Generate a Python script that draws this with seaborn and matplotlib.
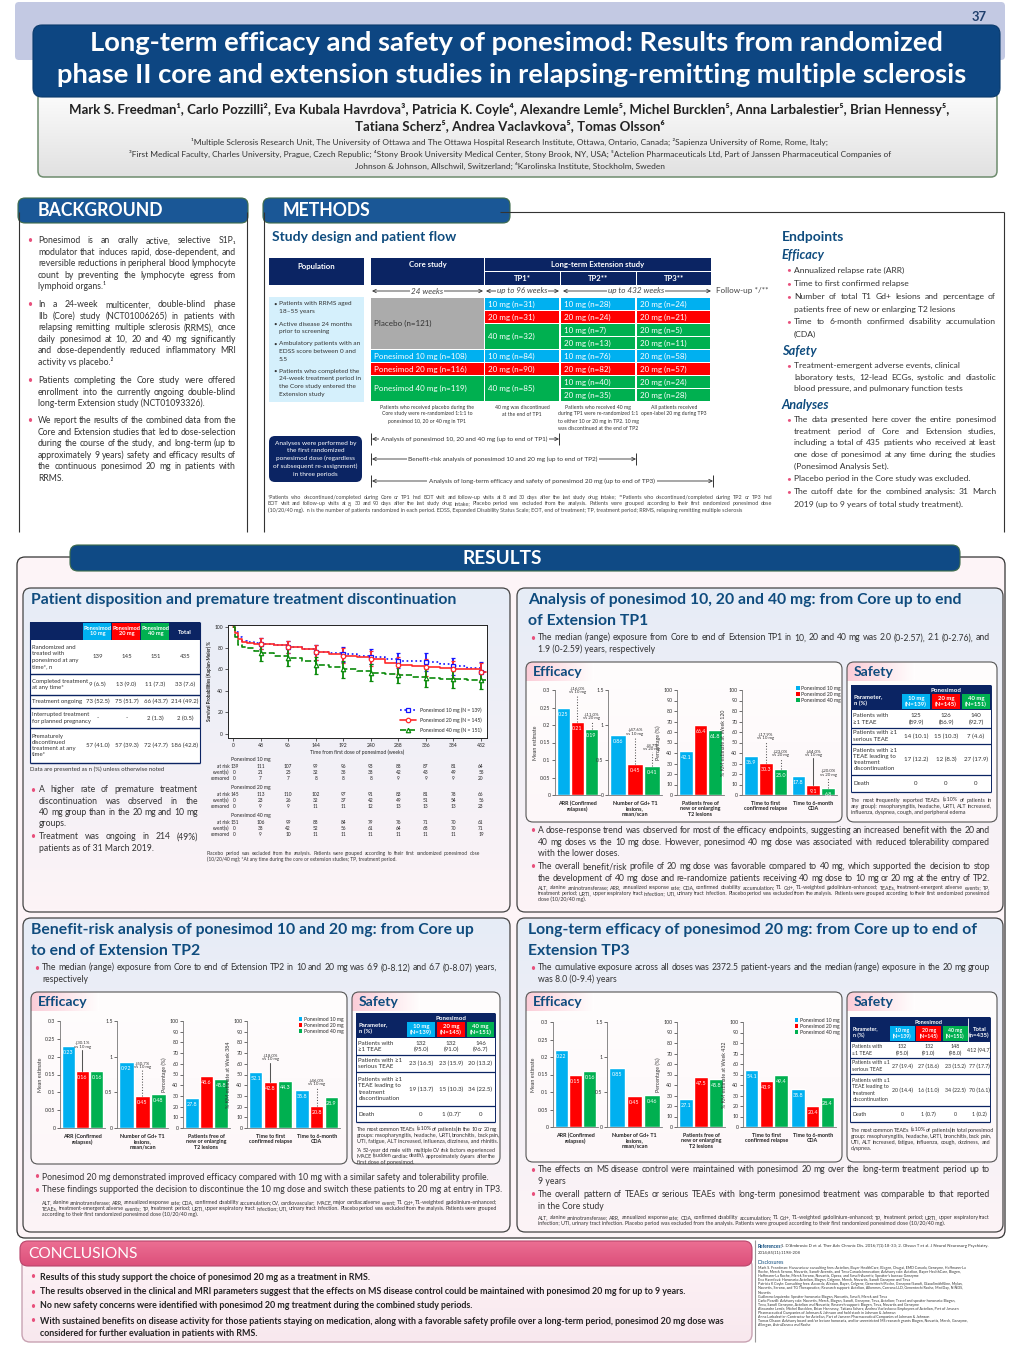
import textwrap
import numpy as np
import pandas as pd
import matplotlib
matplotlib.use('Agg')
import matplotlib.pyplot as plt
import seaborn as sns
from matplotlib.patches import FancyBboxPatch, Rectangle, Patch
from matplotlib.lines import Line2D
from matplotlib.colors import to_rgb

sns.set_theme(style='white')
plt.rcParams['font.family'] = ['Lato', 'DejaVu Sans']
plt.rcParams['axes.unicode_minus'] = False

# ============================ DATA ============================
dose_names = ['Ponesimod 10 mg', 'Ponesimod 20 mg', 'Ponesimod 40 mg']
dose_colors = ['#00b0f0', '#ff0000', '#00b050']

# --- disposition table
disp_cols = ['Ponesimod\n10 mg', 'Ponesimod\n20 mg', 'Ponesimod\n40 mg', 'Total']
disp_rows = ['Randomized and\ntreated with\nponesimod at any\ntime*, n',
             'Completed treatment\nat any time*', 'Treatment ongoing',
             'Interrupted treatment\nfor planned pregnancy',
             'Prematurely\ndiscontinued\ntreatment at any\ntime*']
disp_randomized = ['139', '145', '151', '435']
disp_completed = ['9 (6.5)', '13 (9.0)', '11 (7.3)', '33 (7.6)']
disp_ongoing = ['73 (52.5)', '75 (51.7)', '66 (43.7)', '214 (49.2)']
disp_interrupted = ['-', '-', '2 (1.3)', '2 (0.5)']
disp_discontinued = ['57 (41.0)', '57 (39.3)', '72 (47.7)', '186 (42.8)']

# --- Kaplan-Meier (treatment discontinuation)
km_weeks = [0, 4, 8, 16, 24, 36, 48, 72, 96, 120, 144, 168, 192, 216, 240, 264, 288, 312, 336, 360, 384, 408, 432, 440]
km_10 = [100, 95, 90, 87, 86, 85, 84, 83, 81, 79, 76, 75, 74, 73, 72, 70, 68, 68, 67, 65, 63, 61, 58, 58]
km_20 = [100, 94, 88, 86, 85, 84, 84, 83, 81, 79, 76, 74, 73, 72, 70, 66, 64, 63, 62, 61, 60, 60, 58, 58]
km_40 = [100, 90, 83, 81, 80, 77, 75, 73, 71, 68, 64, 62, 60, 59, 57, 56, 55, 53, 52, 51, 51, 50, 50, 50]
km_ticks = [0, 48, 96, 144, 192, 240, 288, 336, 384, 432]
km_err_10 = [5, 6, 7, 7, 7, 7, 8, 8, 9]
km_err_20 = [5, 6, 7, 7, 7, 8, 8, 8, 8]
km_err_40 = [7, 8, 8, 8, 8, 8, 8, 8, 8]
km_legend = ['Ponesimod 10 mg (N = 139)', 'Ponesimod 20 mg (N = 145)', 'Ponesimod 40 mg (N = 151)']
risk_10_atrisk = [139, 111, 107, 99, 96, 93, 88, 87, 81, 64]
risk_10_events = [0, 21, 25, 32, 35, 38, 42, 43, 49, 55]
risk_10_cens = [0, 7, 7, 8, 8, 8, 9, 9, 9, 20]
risk_20_atrisk = [145, 113, 110, 102, 97, 91, 83, 81, 78, 66]
risk_20_events = [0, 23, 26, 32, 37, 42, 49, 51, 54, 56]
risk_20_cens = [0, 9, 9, 11, 11, 12, 13, 13, 13, 23]
risk_40_atrisk = [151, 106, 99, 88, 84, 79, 76, 71, 70, 61]
risk_40_events = [0, 38, 42, 52, 56, 61, 64, 68, 70, 71]
risk_40_cens = [0, 9, 10, 11, 11, 11, 11, 11, 11, 19]

# --- efficacy bars (10 / 20 / 40 mg)
tp1_arr = [0.25, 0.21, 0.19]
tp1_gd = [0.86, 0.45, 0.41]
tp1_t2 = [42.1, 66.4, 61.8]
tp1_relapse = [36.9, 30.3, 25.0]
tp1_cda = [17.8, 9.1, 6.8]
tp2_arr = [0.23, 0.16, 0.16]
tp2_gd = [0.92, 0.45, 0.48]
tp2_t2 = [27.8, 48.6, 45.8]
tp2_relapse = [52.1, 42.8, 44.3]
tp2_cda = [35.8, 20.8, 28.9]
tp3_arr = [0.22, 0.15, 0.16]
tp3_gd = [0.85, 0.45, 0.46]
tp3_t2 = [27.1, 47.5, 45.8]
tp3_relapse = [54.1, 43.9, 49.4]
tp3_cda = [35.8, 20.4, 28.4]
tp1_notes_arr = ['↓16.0%\nvs 10 mg', '↓11.0%\nvs 20 mg']
tp1_notes_gd = ['↓47.6%\nvs 10 mg', '↓8.7%\nvs 20 mg']
tp1_notes_relapse = ['↓17.9%\nvs 10 mg', '↓23.0%\nvs 20 mg']
tp1_notes_cda = ['↓44.0%\nvs 10 mg', '↓20.0%\nvs 20 mg']
tp2_notes = ['↓30.1%\nvs 10 mg', '↓50.7%\nvs 10 mg', '↓18.0%\nvs 10 mg', '↓46.0%\nvs 10 mg']

# --- safety tables
safety_params = ['Patients with\n≥1 TEAE', 'Patients with ≥1\nserious TEAE',
                 'Patients with ≥1\nTEAE leading to\ntreatment\ndiscontinuation', 'Death']
safety_cols = ['10 mg\n(N=139)', '20 mg\n(N=145)', '40 mg\n(N=151)', 'Total\n(n=435)']
tp1_teae = ['125\n(89.9)', '126\n(86.9)', '140\n(92.7)']
tp1_serious = ['14 (10.1)', '15 (10.3)', '7 (4.6)']
tp1_disc = ['17 (12.2)', '12 (8.3)', '27 (17.9)']
tp1_death = ['0', '0', '0']
tp2_teae = ['132\n(95.0)', '132\n(91.0)', '146\n(96.7)']
tp2_serious = ['23 (16.5)', '23 (15.9)', '20 (13.2)']
tp2_disc = ['19 (13.7)', '15 (10.3)', '34 (22.5)']
tp2_death = ['0', '1 (0.7)ᵃ', '0']
tp3_teae = ['132\n(95.0)', '132\n(91.0)', '148\n(98.0)', '412 (94.7)']
tp3_serious = ['27 (19.4)', '27 (18.6)', '23 (15.2)', '77 (17.7)']
tp3_disc = ['20 (14.4)', '16 (11.0)', '34 (22.5)', '70 (16.1)']
tp3_death = ['0', '1 (0.7)', '0', '1 (0.2)']

# --- study flow
flow_core = ['Placebo (n=121)', 'Ponesimod 10 mg (n=108)', 'Ponesimod 20 mg (n=116)', 'Ponesimod 40 mg (n=119)']
flow_tp1 = ['10 mg (n=31)', '20 mg (n=31)', '40 mg (n=32)', '10 mg (n=84)', '20 mg (n=90)', '40 mg (n=85)']
flow_tp2 = ['10 mg (n=28)', '20 mg (n=24)', '10 mg (n=7)', '20 mg (n=13)', '10 mg (n=76)', '20 mg (n=82)', '10 mg (n=40)', '20 mg (n=35)']
flow_tp3 = ['20 mg (n=24)', '20 mg (n=21)', '20 mg (n=5)', '20 mg (n=11)', '20 mg (n=58)', '20 mg (n=57)', '20 mg (n=24)', '20 mg (n=28)']
flow_row_dose = [0, 1, 2, 2, 0, 1, 2, 2]

# ============================ LAYOUT HELPERS ============================
W, H = 1020, 1360
fig = plt.figure(figsize=(W / 100, H / 100), dpi=100)
fig.patch.set_facecolor('white')
C = fig.add_axes([0, 0, 1, 1])
C.set_xlim(0, W)
C.set_ylim(H, 0)
C.axis('off')
C.set_autoscale_on(False)
RENDERER = fig.canvas.get_renderer()

NAVY = '#0b2463'
HEAD = '#0f4c7e'
PINK = '#e8507c'
DARK = '#262626'


def fs(px):
    return px * 0.72


def T(x, y, s, px=8, color=DARK, weight='normal', ha='left', va='center', style='normal', z=10, **kw):
    return C.text(x, y, s, fontsize=fs(px), color=color, fontweight=weight, ha=ha, va=va,
                  style=style, zorder=z, **kw)


_wc = {}


def tw(s, px, weight='normal'):
    key = (s, px, weight)
    if key not in _wc:
        t = C.text(0, 0, s, fontsize=fs(px), fontweight=weight)
        _wc[key] = t.get_window_extent(RENDERER).width
        t.remove()
    return _wc[key]


def JLINE(x, y, s, width, px, justify=True, weight='normal', **kw):
    yb = y + 0.28 * px
    words = s.split(' ')
    if not justify or len(words) < 2:
        T(x, yb, s, px=px, weight=weight, va='baseline', **kw)
        return
    ws = [tw(w, px, weight) for w in words]
    sp = tw('a a', px, weight) - 2 * tw('a', px, weight)
    gap = (width - sum(ws)) / (len(words) - 1)
    gap = max(gap, 0.35 * sp)
    if gap > 4 * sp:
        T(x, yb, s, px=px, weight=weight, va='baseline', **kw)
        return
    xx = x
    for w, wd in zip(words, ws):
        T(xx, yb, w, px=px, weight=weight, va='baseline', **kw)
        xx += wd + gap


def JUST(x, y0, dy, lines, width, px, last=False, **kw):
    for i, s in enumerate(lines):
        JLINE(x, y0 + i * dy, s, width, px, justify=(last or i < len(lines) - 1), **kw)


def RB(x, y, w, h, fc, ec='none', lw=0.8, r=6, z=1):
    p = FancyBboxPatch((x, y), w, h, boxstyle=f'round,pad=0,rounding_size={r}', fc=fc, ec=ec, lw=lw, zorder=z)
    C.add_patch(p)
    return p


def R(x, y, w, h, fc, ec='none', lw=0.6, z=3):
    p = Rectangle((x, y), w, h, fc=fc, ec=ec, lw=lw, zorder=z)
    C.add_patch(p)
    return p


def G(x, y, w, h, c1, c2, vertical=True, clip=None, z=1.5):
    t = np.linspace(0, 1, 64)[:, None]
    cols = np.array(to_rgb(c1))[None, :] * (1 - t) + np.array(to_rgb(c2))[None, :] * t
    img = cols[:, None, :] if vertical else cols[None, :, :]
    im = C.imshow(img, extent=(x, x + w, y + h, y), aspect='auto', zorder=z, interpolation='bilinear')
    if clip is not None:
        im.set_clip_path(clip)
    return im


def LN(x1, y1, x2, y2, color='#333', lw=0.8, z=4, **kw):
    C.plot([x1, x2], [y1, y2], color=color, lw=lw, zorder=z, solid_capstyle='butt', **kw)


def LINES(x, y0, dy, lines, **kw):
    for i, s in enumerate(lines):
        T(x, y0 + i * dy, s, **kw)


def BUL(x, y0, dy, lines, px=8, gap=8, bcol=PINK, width=None, **kw):
    T(x, y0, '•', px=px, color=bcol)
    if width is None:
        LINES(x + gap, y0, dy, lines, px=px, **kw)
    else:
        JUST(x + gap, y0, dy, lines, width, px, **kw)


def rect_px(x, y, w, h):
    return [x / W, 1 - (y + h) / H, w / W, h / H]


def gbox(x, y, w, h, c1, c2, ec='#444', lw=0.9, r=8):
    p = RB(x, y, w, h, 'none', ec=ec, lw=lw, r=r, z=2)
    G(x, y, w, h, c1, c2, clip=p)
    return p


# ============================ HEADER ============================
RB(15, 2, 990, 58, '#c3c9e3', r=4, z=1)
T(979, 17, '37', px=13, color='#1f3f6d', weight='bold', ha='center')
ab = gbox(38, 92, 959, 85, '#fcfcfc', '#e1e1e1', ec='#6e8c6e', lw=1.1, r=6)
RB(33, 25, 967, 72, '#0d4682', ec='#0a3a6c', r=9, z=3)
T(516, 43, 'Long-term efficacy and safety of ponesimod: Results from randomized', px=27.4,
  color='white', weight='bold', ha='center')
T(512, 75, 'phase II core and extension studies in relapsing-remitting multiple sclerosis', px=27.4,
  color='white', weight='bold', ha='center')
T(509, 110, 'Mark S. Freedman¹, Carlo Pozzilli², Eva Kubala Havrdova³, Patricia K. Coyle⁴, Alexandre Lemle⁵, '
  'Michel Burcklen⁵, Anna Larbalestier⁵, Brian Hennessy⁵,', px=13.2, weight='bold', ha='center', color='#222')
T(510, 126, 'Tatiana Scherz⁵, Andrea Vaclavkova⁵, Tomas Olsson⁶', px=13.2, weight='bold', ha='center', color='#222')
T(510, 142, '¹Multiple Sclerosis Research Unit, The University of Ottawa and The Ottawa Hospital Research Institute, '
  'Ottawa, Ontario, Canada; ²Sapienza University of Rome, Rome, Italy;', px=8.4, ha='center', color='#333')
T(510, 154, '³First Medical Faculty, Charles University, Prague, Czech Republic; ⁴Stony Brook University Medical Center, '
  'Stony Brook, NY, USA; ⁵Actelion Pharmaceuticals Ltd, Part of Janssen Pharmaceutical Companies of', px=8.4,
  ha='center', color='#333')
T(510, 166, 'Johnson & Johnson, Allschwil, Switzerland; ⁶Karolinska Institute, Stockholm, Sweden', px=8.4,
  ha='center', color='#333')

# ============================ BACKGROUND ============================
LN(19.5, 212, 19.5, 532, lw=0.8)
LN(247.5, 212, 247.5, 532, lw=0.8)
RB(18, 198, 230, 25, '#1a5796', ec='#3d6b4a', lw=0.8, r=7, z=3)
T(38, 211, 'BACKGROUND', px=17.6, color='white', weight='bold')
bg1 = ['Ponesimod is an orally active, selective S1P₁', 'modulator that induces rapid, dose-dependent, and',
       'reversible reductions in peripheral blood lymphocyte', 'count by preventing the lymphocyte egress from',
       'lymphoid organs.¹']
bg2 = ['In a 24-week multicenter, double-blind phase', 'IIb (Core) study (NCT01006265) in patients with',
       'relapsing remitting multiple sclerosis (RRMS), once', 'daily ponesimod at 10, 20 and 40 mg significantly',
       'and dose-dependently reduced inflammatory MRI', 'activity vs placebo.²']
bg3 = ['Patients completing the Core study were offered', 'enrollment into the currently ongoing double-blind',
       'long-term Extension study (NCT01093326).']
bg4 = ['We report the results of the combined data from the', 'Core and Extension studies that led to dose-selection',
       'during the course of the study, and long-term (up to', 'approximately 9 years) safety and efficacy results of',
       'the continuous ponesimod 20 mg in patients with', 'RRMS.']
for y0, blk in zip([241, 305, 381, 421], [bg1, bg2, bg3, bg4]):
    BUL(27, y0, 11.5, blk, px=8.7, gap=11, color='#333', width=198)

# ============================ METHODS ============================
LN(264, 212, 264, 532, lw=0.8)
LN(1004, 212, 1004, 532, lw=0.8)
LN(500, 212, 1004, 212, lw=0.8)
RB(263, 198, 247, 25, '#1a5796', ec='#3d6b4a', lw=0.8, r=7, z=3)
T(283, 211, 'METHODS', px=17.6, color='white', weight='bold')
T(272, 237, 'Study design and patient flow', px=13.9, color=HEAD, weight='bold')

R(269, 258, 95, 27, NAVY)
T(316.5, 266, 'Population', px=7.8, color='white', weight='bold', ha='center')
R(371, 258, 113, 27, NAVY)
T(427.5, 265, 'Core study', px=7.8, color='white', weight='bold', ha='center')
R(485, 258, 226, 13, NAVY)
T(598, 264.5, 'Long-term Extension study', px=7.8, color='white', weight='bold', ha='center')
col_x = [371, 485, 561, 637]
col_w = [113, 75, 75, 74]
for i, lab in enumerate(['TP1*', 'TP2**', 'TP3**']):
    R(col_x[i + 1], 272, col_w[i + 1], 13, NAVY)
    T(col_x[i + 1] + col_w[i + 1] / 2, 278.5, lab, px=7.8, color='white', weight='bold', ha='center')

arrowkw = dict(arrowstyle='<->', lw=0.6, color='#333', mutation_scale=6, shrinkA=0, shrinkB=0)
C.annotate('', xy=(483, 291), xytext=(372, 291), arrowprops=arrowkw, zorder=5)
T(427, 291, '24 weeks', px=8.2, style='italic', ha='center', color='#444',
  bbox=dict(fc='white', ec='none', pad=0.8), z=6)
C.annotate('', xy=(559, 291), xytext=(486, 291), arrowprops=arrowkw, zorder=5)
T(522, 291, 'up to 96 weeks', px=8.0, style='italic', ha='center', color='#444',
  bbox=dict(fc='white', ec='none', pad=0.3), z=6)
C.annotate('', xy=(711, 291), xytext=(563, 291), arrowprops=arrowkw, zorder=5)
T(636, 291, 'up to 432 weeks', px=8.2, style='italic', ha='center', color='#444',
  bbox=dict(fc='white', ec='none', pad=0.8), z=6)
T(716, 290, 'Follow-up */**', px=8.2, color='#444')

R(269, 297, 95, 105, '#d5f0fc')
pop = [(304, ['Patients with RRMS aged', '18–55 years']),
       (324, ['Active disease 24 months', 'prior to screening']),
       (344, ['Ambulatory patients with an', 'EDSS score between 0 and', '5.5']),
       (371, ['Patients who completed the', '24-week treatment period in', 'the Core study entered the',
              'Extension study'])]
for y0, blk in pop:
    T(273, y0, '•', px=6, color='#333')
    LINES(279, y0, 7.9, blk, px=6.5, color='#333')

RY0, RH = 298, 13
R(col_x[0], RY0, col_w[0], 4 * RH - 1, '#ababab')
T(col_x[0] + 3, RY0 + 2 * RH - 0.5, flow_core[0], px=8, color='#333')
for lab, r0, nr, d in [(flow_core[1], 4, 1, 0), (flow_core[2], 5, 1, 1), (flow_core[3], 6, 2, 2)]:
    R(col_x[0], RY0 + r0 * RH, col_w[0], nr * RH - 1, dose_colors[d])
    T(col_x[0] + 3, RY0 + r0 * RH + nr * RH / 2 - 0.5, lab, px=8, color='white')
tp1_rows = [(0, 1), (1, 1), (2, 2), (4, 1), (5, 1), (6, 2)]
for lab, (r0, nr) in zip(flow_tp1, tp1_rows):
    R(col_x[1], RY0 + r0 * RH, col_w[1] - 1, nr * RH - 1, dose_colors[flow_row_dose[r0]])
    T(col_x[1] + 3, RY0 + r0 * RH + nr * RH / 2 - 0.5, lab, px=8, color='white')
for ci, labs in [(2, flow_tp2), (3, flow_tp3)]:
    for r0, lab in enumerate(labs):
        R(col_x[ci], RY0 + r0 * RH, col_w[ci] - 1, RH - 1, dose_colors[flow_row_dose[r0]])
        T(col_x[ci] + 3, RY0 + r0 * RH + RH / 2 - 0.5, lab, px=8, color='white')

notes = [(427, ['Patients who received placebo during the', 'Core study were re-randomized 1:1:1 to',
                'ponesimod 10, 20 or 40 mg in TP1']),
         (522, ['40 mg was discontinued', 'at the end of TP1']),
         (598, ['Patients who received 40 mg', 'during TP1 were re-randomized 1:1', 'to either 10 or 20 mg in TP2. 10 mg',
                'was discontinued at the end of TP2']),
         (674, ['All patients received', 'open-label 20 mg during TP3'])]
for xc, blk in notes:
    LINES(xc, 407, 7, blk, px=5.1, ha='center', color='#333')

RB(269, 436, 93, 46, NAVY, r=6, z=3)
LINES(315.5, 443, 7.8, ['Analyses were performed by', 'the first randomized', 'ponesimod dose (regardless',
                        'of subsequent re-assignment)', 'in three periods'], px=6.5, color='white', ha='center')
for y, x2, lab, lx, ha in [(439, 559, 'Analysis of ponesimod 10, 20 and 40 mg (up to end of TP1)', 381, 'left'),
                           (459, 636, 'Benefit-risk analysis of ponesimod 10 and 20 mg (up to end of TP2)', 503, 'center'),
                           (481, 713, 'Analysis of long-term efficacy and safety of ponesimod 20 mg (up to end of TP3)', 542, 'center')]:
    C.annotate('', xy=(x2, y), xytext=(372, y), arrowprops=arrowkw, zorder=5)
    LN(371.5, y - 6, 371.5, y + 6, lw=0.7)
    LN(x2 + 0.5, y - 6, x2 + 0.5, y + 6, lw=0.7)
    T(lx, y, lab, px=6.4, ha=ha, color='#333', bbox=dict(fc='white', ec='none', pad=1.2), z=6)

foot_m = ['*Patients who discontinued/completed during Core or TP1 had EOT visit and follow-up visits at 8 and 30 days after the last study drug intake; **Patients who discontinued/completed during TP2 or TP3 had',
          'EOT visit and follow-up visits at 8, 30 and 90 days after the last study drug intake; Placebo period was excluded from the analysis. Patients were grouped according to their first randomized ponesimod dose',
          '(10/20/40 mg).  n is the number of patients randomized in each period. EDSS, Expanded Disability Status Scale; EOT, end of treatment; TP, treatment period; RRMS, relapsing remitting multiple sclerosis']
JUST(268, 497, 6.9, foot_m, 504, 5.4, color='#444')

T(782, 237, 'Endpoints', px=13.9, color=HEAD, weight='bold')
T(782, 255, 'Efficacy', px=12.8, color=HEAD, weight='bold', style='italic')
ep = dict(px=8.5, gap=8, color='#333', width=202)
BUL(786, 270, 12, ['Annualized relapse rate (ARR)'], **ep)
BUL(786, 284, 12, ['Time to first confirmed relapse'], **ep)
BUL(786, 297, 12.3, ['Number of total T1 Gd+ lesions and percentage of', 'patients free of new or enlarging T2 lesions'], **ep)
BUL(786, 322, 12.3, ['Time to 6-month confirmed disability accumulation', '(CDA)'], **ep)
T(782, 351, 'Safety', px=12.8, color=HEAD, weight='bold', style='italic')
BUL(786, 366, 11.3, ['Treatment-emergent adverse events, clinical', 'laboratory tests, 12-lead ECGs, systolic and diastolic',
                     'blood pressure, and pulmonary function tests'], **ep)
T(782, 405, 'Analyses', px=12.8, color=HEAD, weight='bold', style='italic')
BUL(786, 420, 11.5, ['The data presented here cover the entire ponesimod', 'treatment period of Core and Extension studies,',
                     'including a total of 435 patients who received at least',
                     'one dose of ponesimod at any time during the studies', '(Ponesimod Analysis Set).'], **ep)
BUL(786, 479, 12, ['Placebo period in the Core study was excluded.'], **ep)
BUL(786, 492, 12, ['The cutoff date for the combined analysis: 31 March',
                   '2019 (up to 9 years of total study treatment).'], **ep)

# ============================ RESULTS ============================
RB(17, 557, 988, 681, '#fdf4f7', ec='#333', lw=0.9, r=8, z=1)
RB(70, 545, 890, 26, '#0f4a85', ec='#3d6b4a', lw=0.8, r=8, z=3)
T(502, 558, 'RESULTS', px=19, color='white', weight='bold', ha='center')

PANEL_TOP, PANEL_BOT = '#e6ecf6', '#fdf4f7'
gbox(23, 588, 487, 324, PANEL_TOP, PANEL_BOT)
gbox(517, 588, 486, 324, PANEL_TOP, PANEL_BOT)
gbox(23, 918, 487, 314, PANEL_TOP, PANEL_BOT)
gbox(517, 918, 486, 314, PANEL_TOP, PANEL_BOT)

TPX = 15.8
T(31, 600, 'Patient disposition and premature treatment discontinuation', px=TPX, color=HEAD, weight='bold')
T(528, 600, 'Analysis of ponesimod 10, 20 and 40 mg: from Core up to end', px=TPX, color=HEAD, weight='bold')
T(528, 621, 'of Extension TP1', px=TPX, color=HEAD, weight='bold')
T(31, 930, 'Benefit-risk analysis of ponesimod 10 and 20 mg: from Core up', px=TPX, color=HEAD, weight='bold')
T(31, 951, 'to end of Extension TP2', px=TPX, color=HEAD, weight='bold')
T(528, 930, 'Long-term efficacy of ponesimod 20 mg: from Core up to end of', px=TPX, color=HEAD, weight='bold')
T(528, 951, 'Extension TP3', px=TPX, color=HEAD, weight='bold')

# ---------------- panel 1 : disposition table
colx = [30, 83, 112, 141, 170, 200]
R(30, 640, 170, 123, 'white', z=2.5)
R(30, 622, 170, 18, NAVY)
for i in range(3):
    R(colx[i + 1] + 0.5, 622.5, 28, 17, dose_colors[i], z=4)
    T((colx[i + 1] + colx[i + 2]) / 2, 631, disp_cols[i], px=5.6, color='white', weight='bold', ha='center',
      linespacing=1.2)
T(185, 633, disp_cols[3], px=6, color='white', weight='bold', ha='center')
row_edges = [640, 674, 695, 708, 728, 763]
row_vals = [disp_randomized, disp_completed, disp_ongoing, disp_interrupted, disp_discontinued]
for k in range(5):
    yc = (row_edges[k] + row_edges[k + 1]) / 2
    T(32, yc, disp_rows[k], px=6.0, color='#333', linespacing=1.3)
    for j in range(4):
        T((colx[j + 1] + colx[j + 2]) / 2, yc, row_vals[k][j], px=6.0, ha='center', color='#333')
    LN(30, row_edges[k + 1], 200, row_edges[k + 1], color=NAVY, lw=1.0)
LN(30, 622, 30, 763, color=NAVY, lw=0.8)
LN(200, 622, 200, 763, color=NAVY, lw=0.8)
T(30, 769, 'Data are presented as n (%) unless otherwise noted', px=6.0, color='#333')
BUL(30, 790, 11.3, ['A higher rate of premature treatment', 'discontinuation was observed in the',
                    '40 mg group than in the 20 mg and 10 mg', 'groups.'], px=8.7, gap=9, color='#333', width=159)
BUL(30, 837, 11.3, ['Treatment was ongoing in 214 (49%)', 'patients as of 31 March 2019.'], px=8.7, gap=9,
    color='#333', width=159)

# ---------------- panel 1 : KM curve
axk = fig.add_axes(rect_px(228, 625, 259, 113))
axk.set_facecolor('white')
km_colors = ['#1414ff', '#ff2a2a', '#0a8a0a']
km_ls = [':', '-', '--']
km_mk = ['s', 'o', '^']
for vals, col, ls, mk, errs in zip([km_10, km_20, km_40], km_colors, km_ls, km_mk, [km_err_10, km_err_20, km_err_40]):
    sns.lineplot(x=km_weeks, y=vals, color=col, linestyle=ls, lw=1.2, drawstyle='steps-post', ax=axk,
                 errorbar=None, legend=False)
    mv = [vals[km_weeks.index(wk)] for wk in km_ticks[1:]]
    axk.errorbar(km_ticks[1:], mv, yerr=errs, fmt=mk, color=col, mfc='white', ms=3.2, mew=0.9,
                 elinewidth=1.3, capsize=1.6, capthick=0.9)
axk.set_xlim(-8.7, 442.5)
axk.set_ylim(-4, 101.5)
axk.set_xticks(km_ticks)
axk.set_yticks([0, 20, 40, 60, 80, 100])
axk.tick_params(labelsize=fs(5), length=2, width=0.5, pad=1.5, bottom=True, left=True, colors='#222')
for s in axk.spines.values():
    s.set_color('#222')
    s.set_linewidth(0.7)
axk.set_xlabel('Time from first dose of ponesimod (weeks)', fontsize=fs(5), labelpad=1.5, color='#222')
axk.set_ylabel('Survival Probabilities (Kaplan-Meier) %', fontsize=fs(4.6), labelpad=2, color='#222',
               fontweight='bold')
hs = [Line2D([], [], color=c, ls=l, marker=m, mfc='white', ms=3.2, mew=0.9, lw=1.2)
      for c, l, m in zip(km_colors, km_ls, km_mk)]
axk.legend(hs, km_legend, loc='lower right', fontsize=fs(5), frameon=False, handlelength=3.2,
           labelspacing=0.9, borderaxespad=0.6)

ar = fig.add_axes(rect_px(228, 755, 259, 85))
ar.set_xlim(-8.7, 442.5)
ar.set_ylim(85, 0)
ar.axis('off')
groups = [('Ponesimod 10 mg', risk_10_atrisk, risk_10_events, risk_10_cens),
          ('Ponesimod 20 mg', risk_20_atrisk, risk_20_events, risk_20_cens),
          ('Ponesimod 40 mg', risk_40_atrisk, risk_40_events, risk_40_cens)]
for g, (name, a, e, c) in enumerate(groups):
    y0 = 5 + g * 28
    ar.text(-3, y0, name, fontsize=fs(5), ha='left', va='center', color='#222')
    for r, (lab, vals) in enumerate([('at risk', a), ('event(s)', e), ('censored', c)]):
        yy = y0 + 6.2 * (r + 1)
        ar.text(-6, yy, lab, fontsize=fs(4.8), ha='right', va='center', color='#222')
        for wk, v in zip(km_ticks, vals):
            ar.text(wk + (3 if wk == 0 else 0), yy, str(v), fontsize=fs(4.8), ha='center', va='center', color='#222')
JUST(207, 854, 6, ['Placebo period was excluded from the analysis. Patients were grouped according to their first randomized ponesimod dose',
                   '(10/20/40 mg); *At any time during the core or extension studies; TP, treatment period.'],
     273, 4.9, color='#333')


# ---------------- efficacy / safety helpers
def eff_chart(x, y, w, h, cats, series, ylim, ticks, ticklabels, ylabel, fmt, xlabels, ann=(), legend=False):
    ax = fig.add_axes(rect_px(x, y, w, h))
    ax.patch.set_alpha(0)
    df = pd.DataFrame({'cat': np.repeat(cats, 3), 'dose': dose_names * len(cats), 'val': np.concatenate(series)})
    sns.barplot(data=df, x='cat', y='val', hue='dose', order=cats, hue_order=dose_names, palette=dose_colors,
                saturation=1, width=0.94, gap=0.08, errorbar=None, legend=False, ax=ax)
    for cont in ax.containers:
        ax.bar_label(cont, labels=[fmt.format(b.get_height()) for b in cont], padding=-6.5, color='white',
                     fontsize=fs(5.4))
    ax.set_ylim(*ylim)
    ax.set_xlim(-0.5, len(cats) - 0.5)
    ax.set_yticks(ticks)
    ax.set_yticklabels(ticklabels)
    ax.tick_params(axis='y', labelsize=fs(5.2), length=2, width=0.5, pad=1.2, colors='#333', left=True)
    ax.tick_params(axis='x', length=0, pad=4, labelsize=fs(5.4), colors='#222')
    ax.set_xticks(range(len(cats)))
    ax.set_xticklabels(xlabels, fontweight='bold', linespacing=1.15)
    ax.set_xlabel('')
    ax.set_ylabel(ylabel, fontsize=fs(5.2), labelpad=1.5, color='#333')
    for s in ['top', 'right']:
        ax.spines[s].set_visible(False)
    for s in ['left', 'bottom']:
        ax.spines[s].set_color('#777')
        ax.spines[s].set_linewidth(0.6)
    for ci, hi, label, ytop, ls in ann:
        b = ax.containers[hi][ci]
        bx = b.get_x() + b.get_width() / 2
        ax.plot([bx, bx], [b.get_height(), ytop], ls=ls, color='#555', lw=0.75, clip_on=False)
        ax.annotate(label, xy=(bx, ytop), xytext=(0, 1), textcoords='offset points', ha='center', va='bottom',
                    fontsize=fs(4.4), color='#333', linespacing=1.0, annotation_clip=False)
    if legend:
        hs = [Patch(fc=c, ec='none') for c in dose_colors]
        ax.legend(hs, dose_names, loc='upper right', bbox_to_anchor=(1.04, 1.04), frameon=False, fontsize=fs(5),
                  handlelength=0.7, handleheight=0.7, handletextpad=0.3, labelspacing=0.2, borderaxespad=0,
                  borderpad=0)
    return ax


def tp_charts(xs, y, h, arr, gd, t2, rel, cda, week, ann_arr=(), ann_gd=(), ann_km=()):
    eff_chart(xs[0][0], y, xs[0][1], h, ['arr'], [arr], (0, 0.3), [0, 0.05, 0.1, 0.15, 0.2, 0.25, 0.3],
              ['0', '0.05', '0.1', '0.15', '0.2', '0.25', '0.3'], 'Mean estimate', '{:.2f}',
              ['ARR (Confirmed\nrelapses)'], ann_arr)
    eff_chart(xs[1][0], y, xs[1][1], h, ['gd'], [gd], (0, 1.5), [0, 0.5, 1, 1.5], ['0', '0.5', '1', '1.5'], '',
              '{:.2f}', ['Number of Gd+ T1\nlesions,\nmean/scan'], ann_gd)
    eff_chart(xs[2][0], y, xs[2][1], h, ['t2'], [t2], (0, 100), list(range(0, 101, 10)),
              [str(v) for v in range(0, 101, 10)], 'Percentage (%)', '{:.1f}',
              ['Patients free of\nnew or enlarging\nT2 lesions'])
    eff_chart(xs[3][0], y, xs[3][1], h, ['rel', 'cda'], [rel, cda], (0, 100), list(range(0, 101, 10)),
              [str(v) for v in range(0, 101, 10)], f'% KM estimate at Week {week}', '{:.1f}',
              ['Time to first\nconfirmed relapse', 'Time to 6-month\nCDA'], ann_km, legend=True)


def sub_boxes(ex, y, ew, sx, sw, h):
    for bx, bw, lab in [(ex, ew, 'Efficacy'), (sx, sw, 'Safety')]:
        p = RB(bx, y, bw, h, 'none', ec='#555', lw=0.8, r=7, z=3)
        G(bx, y, bw, h, '#fffdfd', '#fdf7f9', clip=p, z=2.6)
        G(bx, y, 68, 19, '#fbcdd8', '#fffdfd', vertical=False, clip=p, z=2.7)
        T(bx + 7, y + 9.5, lab, px=14, color=HEAD, weight='bold')


def safety_table(x, y, widths, hh, rh, rows, ncol):
    xs = np.cumsum([x] + widths)
    Wt = xs[-1] - x
    sz = 6.1 if ncol == 3 else 5.3
    R(x, y + hh, Wt, sum(rh), 'white', z=3.5)
    R(x, y, Wt, hh, NAVY, z=4)
    ptop = 9
    T((xs[1] + xs[4]) / 2, y + ptop / 2 + 0.5, 'Ponesimod', px=6.2 if ncol == 3 else 5.6, color='white',
      weight='bold', ha='center')
    for i in range(3):
        R(xs[1 + i] + 0.6, y + ptop, widths[1 + i] - 1.2, hh - ptop - 1, dose_colors[i], z=4.5)
        T((xs[1 + i] + xs[2 + i]) / 2, y + ptop + (hh - ptop) / 2, safety_cols[i], px=6.0 if ncol == 3 else 5.1,
          color='white', weight='bold', ha='center', linespacing=1.15)
    if ncol == 4:
        LN(xs[4], y + 1, xs[4], y + hh, color='white', lw=0.6, z=5)
        T((xs[4] + xs[5]) / 2, y + hh * 0.62, safety_cols[3], px=6.0, color='white', weight='bold', ha='center',
          linespacing=1.15)
    T(x + 3, y + hh * 0.6, 'Parameter,\nn (%)', px=6.0 if ncol == 3 else 5.2, color='white', weight='bold',
      linespacing=1.2)
    yy = y + hh
    for p, vals, h in zip(safety_params, rows, rh):
        T(x + 2.5, yy + h / 2, p, px=sz, color='#333', linespacing=1.3)
        for j, v in enumerate(vals):
            T((xs[1 + j] + xs[2 + j]) / 2, yy + h / 2, v, px=sz, color='#333', ha='center', linespacing=1.3)
        yy += h
        LN(x, yy, xs[-1], yy, color=NAVY, lw=0.9, z=5)
    LN(x, y, x, yy, color=NAVY, lw=0.7, z=5)
    LN(xs[-1], y, xs[-1], yy, color=NAVY, lw=0.7, z=5)


BP = dict(px=8.6, gap=8, color='#333')

# ---------------- panel 2 : TP1
BUL(530, 638, 11.5, ['The median (range) exposure from Core to end of Extension TP1 in 10, 20 and 40 mg was 2.0 (0-2.57), 2.1 (0-2.76), and',
                     '1.9 (0-2.59) years, respectively'], width=452, **BP)
sub_boxes(526, 662, 316, 847, 150, 160)
tp_charts([(555, 45), (608, 54), (677, 47), (742, 95)], 690, 105, tp1_arr, tp1_gd, tp1_t2, tp1_relapse, tp1_cda, 120,
          ann_arr=[(0, 1, tp1_notes_arr[0], 0.284, ':'), (0, 2, tp1_notes_arr[1], 0.209, ':')],
          ann_gd=[(0, 1, tp1_notes_gd[0], 0.83, ':'), (0, 2, tp1_notes_gd[1], 0.61, ':')],
          ann_km=[(0, 1, tp1_notes_relapse[0], 51, ':'), (0, 2, tp1_notes_relapse[1], 35, ':'),
                  (1, 1, tp1_notes_cda[0], 35, '-'), (1, 2, tp1_notes_cda[1], 16, ':')])
safety_table(851, 685, [50, 30, 30, 30], 25, [18, 16, 31, 17], [tp1_teae, tp1_serious, tp1_disc, tp1_death], 3)
JUST(851, 800, 6.2, ['The most frequently reported TEAEs (≥10% of patients in', 'any group): nasopharyngitis, headache, URTI, ALT increased,',
                     'influenza, dyspnea, cough, and peripheral edema'], 141, 5.4, color='#333')
BUL(530, 831, 11.3, ['A dose-response trend was observed for most of the efficacy endpoints, suggesting an increased benefit with the 20 and',
                     '40 mg doses vs the 10 mg dose. However, ponesimod 40 mg dose was associated with reduced tolerability compared',
                     'with the lower doses.'], width=452, **BP)
BUL(530, 867, 11.3, ['The overall benefit/risk profile of 20 mg dose was favorable compared to 40 mg, which supported the decision to stop',
                     'the development of 40 mg dose and re-randomize patients receiving 40 mg dose to 10 mg or 20 mg at the entry of TP2.'],
    width=452, last=True, **BP)
JUST(538, 888, 5.9, ['ALT, alanine aminotransferase; ARR, annualized response rate; CDA, confirmed disability accumulation; T1 Gd+, T1-weighted gadolinium-enhanced; TEAEs, treatment-emergent adverse events; TP,',
                     'treatment period; URTI, upper respiratory tract infection; UTI, urinary tract infection. Placebo period was excluded from the analysis. Patients were grouped according to their first randomized ponesimod',
                     'dose (10/20/40 mg).'], 452, 5.2, color='#333')

# ---------------- panel 3 : TP2
BUL(34, 968, 11.5, ['The median (range) exposure from Core to end of Extension TP2 in 10 and 20 mg was 6.9 (0-8.12) and 6.7 (0-8.07) years,',
                    'respectively'], width=455, **BP)
sub_boxes(31, 992, 316, 352, 148, 172)
tp_charts([(60, 45), (117, 51), (183, 47), (247, 93)], 1021, 107, tp2_arr, tp2_gd, tp2_t2, tp2_relapse, tp2_cda, 384,
          ann_arr=[(0, 1, tp2_notes[0], 0.219, '-')],
          ann_gd=[(0, 1, tp2_notes[1], 0.81, ':')],
          ann_km=[(0, 1, tp2_notes[2], 61, '-'), (1, 1, tp2_notes[3], 38, ':')])
safety_table(356, 1013, [50, 30, 30, 29], 25, [17, 17, 34, 16], [tp2_teae, tp2_serious, tp2_disc, tp2_death], 3)
JUST(357, 1129, 6.1, ['The most common TEAEs (≥10% of patients) in the 10 or 20 mg', 'groups: nasopharyngitis, headache, URTI, bronchitis, back pain,',
                      'UTI, fatigue, ALT increased, influenza, dizziness, and rhinitis.'], 139, 5.4, color='#333')
JUST(357, 1150, 6.1, ['ᵃA 52-year old male with multiple CV risk factors experienced', 'MACE (sudden cardiac death), approximately 6 years after the',
                      'first dose of ponesimod.'], 139, 5.4, color='#333')
BUL(34, 1177, 12, ['Ponesimod 20 mg demonstrated improved efficacy compared with 10 mg with a similar safety and tolerability profile.'],
    **BP)
BUL(34, 1190, 12, ['These findings supported the decision to discontinue the 10 mg dose and switch these patients to 20 mg at entry in TP3.'],
    **BP)
JUST(42, 1203, 5.9, ['ALT, alanine aminotransferase; ARR, annualized response rate; CDA, confirmed disability accumulation; CV, cardiovascular; MACE, major cardiac adverse event; T1 Gd+, T1-weighted gadolinium-enhanced;',
                     'TEAEs, treatment-emergent adverse events; TP, treatment period; URTI, upper respiratory tract infection; UTI, urinary tract infection. Placebo period was excluded from the analysis. Patients were grouped',
                     'according to their first randomized ponesimod dose (10/20/40 mg).'], 455, 5.2, color='#333')

# ---------------- panel 4 : TP3
BUL(530, 968, 11.5, ['The cumulative exposure across all doses was 2372.5 patient-years and the median (range) exposure in the 20 mg group',
                     'was 8.0 (0-9.4) years'], width=452, **BP)
sub_boxes(526, 992, 316, 847, 150, 170)
tp_charts([(553, 45), (607, 55), (677, 48), (743, 93)], 1022, 105, tp3_arr, tp3_gd, tp3_t2, tp3_relapse, tp3_cda, 432)
safety_table(850, 1017, [39, 26.5, 26.5, 26.5, 22], 25, [16, 16, 32, 16], [tp3_teae, tp3_serious, tp3_disc, tp3_death], 4)
JUST(851, 1130, 6.1, ['The most common TEAEs (≥10% of patients) in total ponesimod', 'group: nasopharyngitis, headache, URTI, bronchitis, back pain,',
                      'UTI, ALT increased, fatigue, influenza, cough, dizziness, and', 'dyspnea.'], 139, 5.4, color='#333')
BUL(530, 1170, 11.3, ['The effects on MS disease control were maintained with ponesimod 20 mg over the long-term treatment period up to',
                      '9 years'], width=452, **BP)
BUL(530, 1195, 11.3, ['The overall pattern of TEAEs or serious TEAEs with long-term ponesimod treatment was comparable to that reported',
                      'in the Core study'], width=452, **BP)
JUST(538, 1218, 5.9, ['ALT, alanine aminotransferase; ARR, annualized response rate; CDA, confirmed disability accumulation; T1 Gd+, T1-weighted gadolinium-enhanced; TP, treatment period; URTI, upper respiratory tract',
                      'infection; UTI, urinary tract infection. Placebo period was excluded from the analysis. Patients were grouped according to their first randomized ponesimod dose (10/20/40 mg).'],
     452, 5.2, color='#333')

# ============================ CONCLUSIONS ============================
cb = gbox(22, 1258, 730, 84, '#fdf2f6', '#f8e8ee', ec='#c8a2b2', lw=1.0, r=8)
cp = RB(20, 1241, 732, 25, 'none', ec='#b8456b', lw=0.8, r=8, z=3)
G(20, 1241, 732, 25, '#ec6f93', '#dc4f7a', clip=cp, z=2.8)
T(28, 1253.5, 'CONCLUSIONS', px=15.5, color='white')
ck = dict(px=8.9, gap=10, color='#222', weight='bold')
BUL(30, 1277, 12, ['Results of this study support the choice of ponesimod 20 mg as a treatment in RMS.'], **ck)
BUL(30, 1292, 12, ['The results observed in the clinical and MRI parameters suggest that the effects on MS disease control could be maintained with ponesimod 20 mg for up to 9 years.'], **ck)
BUL(30, 1306, 12, ['No new safety concerns were identified with ponesimod 20 mg treatment during the combined study periods.'], **ck)
BUL(30, 1321, 12.3, ['With sustained benefits on disease activity for those patients staying on medication, along with a favorable safety profile over a long-term period, ponesimod 20 mg dose was',
                     'considered for further evaluation in patients with RMS.'], **ck)

LN(755.5, 1240, 755.5, 1342, color='#999', lw=0.8)
T(758, 1246, 'References:', px=4.8, color=HEAD, weight='bold')
T(781, 1246, "1. D'Ambrosio D et al. Ther Adv Chronic Dis. 2016;7(1):18-33; 2. Olsson T et al. J Neurol Neurosurg Psychiatry.",
  px=4.2, color='#333')
T(758, 1252, '2014;85(11):1198-208', px=4.2, color='#333')
T(758, 1262, 'Disclosures', px=5.2, color=HEAD)
disclosures = [
    "Mark S. Freedman: Honoraria or consulting fees: Actelion, Bayer HealthCare, Biogen, Chugai, EMD Canada, Genzyme, Hoffmann-La Roche, Merck Serono, Novartis, Sanofi-Aventis, and Teva Canada Innovation; Advisory role: Actelion, Bayer HealthCare, Biogen, Hoffmann-La Roche, Merck Serono, Novartis, Opexa, and Sanofi-Aventis; Speaker's bureau: Genzyme",
    "Eva Havrdová: Honoraria: Actelion, Biogen, Celgene, Merck, Novartis, Sanofi Genzyme and Teva",
    "Patricia K Coyle: Consulting fees: Accorda, Alexion, Bayer, Celgene, Genentech/Roche, Genzyme/Sanofi, GlaxoSmithKline, Mylan, Novartis, Serono, and TG Therapeutics; Research support: Actelion, Alkermes, Corrona LLD, Genentech/Roche, MedDay, NINDS, Novartis",
    "Guillermo Izquierdo: Speaker honoraria: Biogen, Novartis, Sanofi, Merck and Teva",
    "Carlo Pozzilli: Advisory role: Novartis, Merck, Biogen, Sanofi, Genzyme, Teva, Actelion; Travel and speaker honoraria: Biogen, Teva, Sanofi Genzyme, Actelion and Novartis; Research support: Biogen, Teva, Novartis and Genzyme",
    "Alexandre Lemle, Michel Burcklen, Brian Hennessy, Tatiana Scherz, Andrea Vaclavkova: Employees of Actelion, Part of Janssen Pharmaceutical Companies of Johnson & Johnson and hold stock in Johnson & Johnson",
    "Anna Larbalestier: Contractor for Actelion, Part of Janssen Pharmaceutical Companies of Johnson & Johnson",
    "Tomas Olsson: Advisory board and/or lecture honoraria, and/or unrestricted MS research grants Biogen, Novartis, Merck, Genzyme, Allergan, AstraZeneca and Roche",
]
yy = 1268
for para in disclosures:
    for ln in textwrap.wrap(para, 128):
        T(758, yy, ln, px=3.6, color='#333')
        yy += 4.1

fig.savefig('out.png', dpi=100, facecolor='white')
